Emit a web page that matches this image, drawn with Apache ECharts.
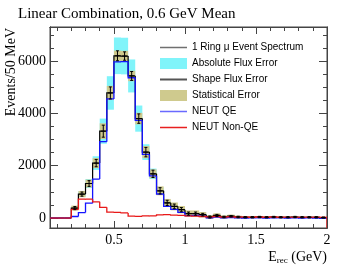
<!DOCTYPE html>
<html>
<head>
<meta charset="utf-8">
<script src="https://cdn.jsdelivr.net/npm/echarts@6/dist/echarts.min.js"></script>
<style>html,body{margin:0;padding:0;background:#fff}#c{width:344px;height:272px}</style>
</head>
<body>
<div id="c"></div>
<script>
// bin low edges (GeV), width 0.05 GeV
const binLow = [0.05,0.10,0.15,0.20,0.25,0.30,0.35,0.40,0.45,0.50,0.55,0.60,0.65,0.70,0.75,0.80,0.85,0.90,0.95,1.00,1.05,1.10,1.15,1.20,1.25,1.30,1.35,1.40,1.45,1.50,1.55,1.60,1.65,1.70,1.75,1.80,1.85,1.90,1.95];
const binWidth = 0.05;
const spectrum = [0,0,0,380,915,1320,2100,3320,4780,6200,6190,5430,3800,2520,1690,1040,580,445,320,170,170,130,40,100,40,70,40,30,30,40,30,40,30,30,40,30,30,30,20];
const neutQE = [0,0,0,60,210,570,1490,2920,4550,5970,5980,5360,3730,2430,1610,920,450,335,220,95,100,70,10,40,10,20,10,0,10,10,0,10,10,0,10,0,10,0,0];
const neutNonQE = [0,0,0,330,725,720,620,410,225,215,195,70,65,85,80,120,130,110,100,80,70,60,50,60,40,50,40,40,30,40,30,40,30,30,30,30,30,30,30];
const absFluxErr = [0,0,0,45,110,170,260,480,640,700,700,630,500,300,200,125,70,50,40,20,20,15,5,12,5,8,5,4,4,5,4,5,4,4,5,4,4,4,2];
const statErr = [0,0,0,95,120,150,190,300,270,200,200,200,220,230,170,170,150,150,140,120,120,100,70,80,60,60,50,40,30,30,25,25,20,20,20,20,20,20,15];
const shapeErr = [0,0,0,60,80,110,140,230,230,190,160,170,180,180,140,120,100,90,80,60,60,50,40,40,30,30,30,25,25,25,25,25,25,25,25,25,25,25,20];
const xMajorTicks = [0.5,1,1.5,2];
const xMinorTicks = [0.1,0.2,0.3,0.4,0.6,0.7,0.8,0.9,1.1,1.2,1.3,1.4,1.6,1.7,1.8,1.9];
const yMajorTicks = [0,2000,4000,6000];
const yMinorTicks = [500,1000,1500,2500,3000,3500,4500,5000,5500,6500,7000];
const xMin = 0.05, xMax = 2.0, yMin = -380, yMax = 7300;

const SERIF = 'Liberation Serif';
const SANS = 'Liberation Sans';
const AX = '#444';
const THIN_LINE_ICON = 'path://M0,0L0,0ZM0,11L0,11ZM0,4.8H28V6.2H0Z';
const THICK_LINE_ICON = 'path://M0,0L0,0ZM0,11L0,11ZM0,4.5H28V6.5H0Z';

// histogram step segments: [x0, x1, value, previous value]
function stepData(vals, dropEnd) {
  const d = binLow.map((e, i) => [e, e + binWidth, vals[i], i > 0 ? vals[i - 1] : vals[i]]);
  if (dropEnd) {
    const xe = binLow[binLow.length - 1] + binWidth;
    d.push([xe, xe, yMin, vals[vals.length - 1]]);
  }
  return d;
}
function stepItem(params, api) {
  const x0 = api.value(0), x1 = api.value(1), v = api.value(2), vp = api.value(3);
  const a = api.coord([x0, vp]), b = api.coord([x0, v]), c = api.coord([x1, v]);
  return { type: 'polyline', shape: { points: [a, b, c] },
    style: { stroke: api.visual('color'), lineWidth: params.seriesName === '1 Ring μ Event Spectrum' ? 1.2 : 1.3, fill: null } };
}
function boxData(err) {
  const d = [];
  binLow.forEach((e, i) => { if (spectrum[i] > 0) d.push([e, e + binWidth, spectrum[i] - err[i], spectrum[i] + err[i]]); });
  return d;
}
function boxItem(params, api) {
  const p0 = api.coord([api.value(0), api.value(3)]);
  const p1 = api.coord([api.value(1), api.value(2)]);
  return { type: 'rect', shape: { x: p0[0], y: p0[1], width: p1[0] - p0[0], height: p1[1] - p0[1] }, style: { fill: api.visual('color') } };
}
const crossData = [];
binLow.forEach((e, i) => { if (spectrum[i] > 0) crossData.push([e + binWidth / 2, spectrum[i], shapeErr[i]]); });
function crossItem(params, api) {
  const xc = api.value(0), v = api.value(1), er = api.value(2);
  const top = api.coord([xc, v + er]);
  const bot = api.coord([xc, v - er]);
  const l = api.coord([xc - binWidth * 0.33, v]);
  const r = api.coord([xc + binWidth * 0.33, v]);
  const st = { stroke: '#000', lineWidth: 1 };
  return { type: 'group', children: [
    { type: 'line', shape: { x1: top[0], y1: top[1], x2: bot[0], y2: bot[1] }, style: st },
    { type: 'line', shape: { x1: l[0], y1: l[1], x2: r[0], y2: r[1] }, style: st },
    { type: 'line', shape: { x1: top[0] - 1.5, y1: top[1], x2: top[0] + 1.5, y2: top[1] }, style: st },
    { type: 'line', shape: { x1: bot[0] - 1.5, y1: bot[1], x2: bot[0] + 1.5, y2: bot[1] }, style: st }
  ]};
}

function xAx(pos, ticks, len, labels) {
  return { type: 'value', min: xMin, max: xMax, position: pos, gridIndex: 0,
    axisLine: { show: true, onZero: false, lineStyle: { color: AX, width: 1 } },
    axisTick: { show: true, inside: true, length: len, customValues: ticks, lineStyle: { color: AX, width: 1 } },
    axisLabel: labels ? { show: true, customValues: ticks, formatter: v => String(v), fontFamily: SERIF, fontSize: 14, color: '#000', margin: 5 } : { show: false },
    splitLine: { show: false } };
}
function yAx(pos, ticks, len, labels) {
  return { type: 'value', min: yMin, max: yMax, position: pos, gridIndex: 0,
    axisLine: { show: true, onZero: false, lineStyle: { color: AX, width: 1 } },
    axisTick: { show: true, inside: true, length: len, customValues: ticks, lineStyle: { color: AX, width: 1 } },
    axisLabel: labels ? { show: true, customValues: ticks, formatter: v => String(v), fontFamily: SERIF, fontSize: 14, color: '#000', margin: 4 } : { show: false },
    splitLine: { show: false } };
}
function lineLegend(name, color, icon) {
  return { name: name, icon: icon || THIN_LINE_ICON,
    itemStyle: { color: color, borderColor: color, borderWidth: 0, opacity: 1 } };
}
function histSeries(name, vals, color, z, dropEnd) {
  return { name: name, type: 'custom', xAxisIndex: 0, yAxisIndex: 0, z: z, clip: true,
    itemStyle: { color: color }, renderItem: stepItem, encode: { x: [0, 1], y: 2 }, data: stepData(vals, dropEnd) };
}

const chart = echarts.init(document.getElementById('c'), null, { renderer: 'canvas' });
chart.setOption({
  animation: false,
  backgroundColor: '#fff',
  title: { text: 'Linear Combination, 0.6 GeV Mean', left: 13, top: 2,
    textStyle: { fontFamily: SERIF, fontSize: 15, fontWeight: 'normal', color: '#000' } },
  grid: { left: 50, right: 17, top: 27, bottom: 44, containLabel: false, outerBoundsMode: 'none',
    show: true, borderColor: AX, borderWidth: 1, backgroundColor: 'transparent' },
  xAxis: [
    xAx('bottom', xMajorTicks, 7, true),
    xAx('bottom', xMinorTicks, 4, false),
    xAx('top', xMajorTicks, 7, false),
    xAx('top', xMinorTicks, 4, false)
  ],
  yAxis: [
    yAx('left', yMajorTicks, 8, true),
    yAx('left', yMinorTicks, 4, false),
    yAx('right', yMajorTicks, 8, false),
    yAx('right', yMinorTicks, 4, false)
  ],
  legend: {
    orient: 'vertical', left: 160, top: 42, padding: 0, itemWidth: 27, itemHeight: 11, itemGap: 5,
    selectedMode: false,
    itemStyle: { borderWidth: 0 },
    textStyle: { fontFamily: SANS, fontSize: 10, color: '#000', lineHeight: 11 },
    data: [
      lineLegend('1 Ring μ Event Spectrum', '#707070'),
      { name: 'Absolute Flux Error', icon: 'rect', itemStyle: { borderWidth: 0 } },
      lineLegend('Shape Flux Error', '#555', THICK_LINE_ICON),
      { name: 'Statistical Error', icon: 'rect', itemStyle: { borderWidth: 0 } },
      lineLegend('NEUT QE', '#6a6aff'),
      lineLegend('NEUT Non-QE', '#e82020')
    ]
  },
  graphic: [
    { type: 'text', x: 11, y: 28, rotation: Math.PI / 2,
      style: { text: 'Events/50 MeV', font: '14px "Liberation Serif"', fill: '#000', align: 'right', verticalAlign: 'middle' } },
    { type: 'text', x: 327, y: 257,
      style: { text: '{a|E}{s|rec}{a| (GeV)}', align: 'right', verticalAlign: 'middle', fill: '#000',
        rich: { a: { fontFamily: SERIF, fontSize: 14, lineHeight: 16 }, s: { fontFamily: SERIF, fontSize: 9, lineHeight: 16, verticalAlign: 'bottom', padding: [6, 0, 0, 0] } } } }
  ],
  series: [
    { name: 'Absolute Flux Error', type: 'custom', xAxisIndex: 0, yAxisIndex: 0, z: 1,
      itemStyle: { color: '#80f4fa' }, renderItem: boxItem, encode: { x: [0, 1], y: [2, 3] }, data: boxData(absFluxErr) },
    { name: 'Statistical Error', type: 'custom', xAxisIndex: 0, yAxisIndex: 0, z: 2,
      itemStyle: { color: '#cfca8e' }, renderItem: boxItem, encode: { x: [0, 1], y: [2, 3] }, data: boxData(statErr) },
    histSeries('1 Ring μ Event Spectrum', spectrum, '#000', 3, false),
    histSeries('NEUT QE', neutQE, '#1414ff', 4, false),
    histSeries('NEUT Non-QE', neutNonQE, '#e81818', 5, true),
    { name: 'Shape Flux Error', type: 'custom', xAxisIndex: 0, yAxisIndex: 0, z: 6,
      itemStyle: { color: '#444' }, renderItem: crossItem, encode: { x: 0, y: 1 }, data: crossData }
  ]
});
</script>
</body>
</html>
